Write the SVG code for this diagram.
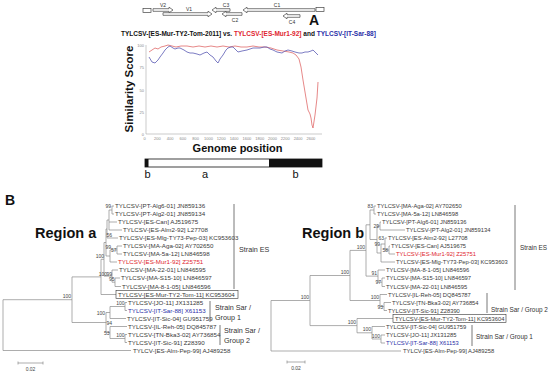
<svg xmlns="http://www.w3.org/2000/svg" width="550" height="375" viewBox="0 0 550 375">
<style>
text{font-family:"Liberation Sans",Arial,sans-serif}
.bold{font-weight:bold}
.gm{fill:#fff;stroke:#444;stroke-width:0.7}
.gl{font-size:5px;fill:#333}
.tk{font-size:4px;fill:#888}
.ax{stroke:#aaa;stroke-width:0.6;fill:none}
.ta{font-size:6.2px;fill:#3a3a3a}
.tb{font-size:5.8px;fill:#3a3a3a}
.bs{font-size:5px;fill:#444;text-anchor:end}
.br{stroke:#8a8a8a;stroke-width:0.7;fill:none}
.bar{stroke:#555;stroke-width:0.8}
.sa{font-size:7.2px;fill:#333}
.sb{font-size:6.4px;fill:#333}
.red{fill:#e0252f}
.blue{fill:#2a2fa8}
</style>
<rect width="550" height="375" fill="#fff"/>

<g id="panelA-genome-map">
<rect class="gm" x="143" y="8.5" width="8" height="4"/>
<rect class="gm" x="316" y="7.5" width="8" height="4"/>
<polygon class="gm" points="153,8.7 169,8.7 169,7.2 173,10 169,12.8 169,11.3 153,11.3"/>
<polygon class="gm" points="163,12.7 208,12.7 208,11.2 212,14 208,16.8 208,15.3 163,15.3"/>
<polygon class="gm" points="230,8.7 216,8.7 216,7.2 212,10 216,12.8 216,11.3 230,11.3"/>
<polygon class="gm" points="242,12.7 226,12.7 226,11.2 222,14 226,16.8 226,15.3 242,15.3"/>
<polygon class="gm" points="315,8.7 247,8.7 247,7.2 243,10 247,12.8 247,11.3 315,11.3"/>
<polygon class="gm" points="300,14.7 287,14.7 287,13.2 283,16 287,18.8 287,17.3 300,17.3"/>
<text class="gl" x="163" y="7" text-anchor="middle">V2</text>
<text class="gl" x="189" y="10.5" text-anchor="middle">V1</text>
<text class="gl" x="226" y="6.5" text-anchor="middle">C3</text>
<text class="gl" x="235" y="22" text-anchor="middle">C2</text>
<text class="gl" x="277" y="6.5" text-anchor="middle">C1</text>
<text class="gl" x="292" y="23.5" text-anchor="middle">C4</text>
</g>

<text class="bold" x="309" y="25" font-size="14" fill="#111">A</text>

<g id="panelA-title">
<text class="bold" x="121" y="36" font-size="6.5" fill="#111">TYLCSV-[ES-Mur-TY2-Tom-2011] vs. <tspan class="red">TYLCSV-[ES-Mur1-92]</tspan> and <tspan class="blue">TYLCSV-[IT-Sar-88]</tspan></text>
</g>

<g id="panelA-plot">
<path class="ax" d="M146,45 V134 H322"/>
<text class="tk" x="144" y="46.5" text-anchor="end">100</text>
<text class="tk" x="144" y="69" text-anchor="end">75</text>
<text class="tk" x="144" y="91.5" text-anchor="end">50</text>
<text class="tk" x="144" y="114" text-anchor="end">25</text>
<text class="tk" x="144" y="136" text-anchor="end">0</text>
<g class="tk" text-anchor="middle">
<text x="144.5" y="139.5">0</text><text x="157.3" y="139.5">200</text><text x="170.1" y="139.5">400</text><text x="182.9" y="139.5">600</text><text x="195.7" y="139.5">800</text><text x="208.5" y="139.5">1000</text><text x="221.3" y="139.5">1200</text><text x="234.1" y="139.5">1400</text><text x="246.9" y="139.5">1600</text><text x="259.7" y="139.5">1800</text><text x="272.5" y="139.5">2000</text><text x="285.3" y="139.5">2200</text><text x="298.1" y="139.5">2400</text><text x="310.9" y="139.5">2600</text>
</g>
<polyline fill="none" stroke="#e06a6a" stroke-width="0.8" points="149,52 152,50 155,48 158,49 161,47 165,46 168,45 172,46 176,47 181,46 187,46 193,47 199,46 205,47 211,46 217,47 223,46 229,47 235,46 241,47 247,47 253,46 259,47 265,47 271,48 277,50 283,51 289,52 293,53 296,55 299,59 301,67 303,80 305,92 307,104 308,110 310,114 311,118 312,125 313,128 315,115 317,98 318,82"/>
<polyline fill="none" stroke="#5a5ab4" stroke-width="0.8" points="149,57 152,62 155,63 158,60 160,57 163,53 165,50 168,47 170,46 173,48 175,49 178,48 180,48 184,50 187,52 190,53 193,53 197,54 200,55 204,53 207,52 210,55 213,57 216,61 218,63 220,59 223,55 226,50 228,48 231,47 233,47 236,50 238,52 242,51 247,50 250,49 253,48 257,48 260,48 264,47 267,47 270,49 273,50 277,52 282,53 285,51 288,50 292,51 295,52 299,53 302,53 305,52 308,52 311,51 313,50 316,53 318,55"/>
<text class="bold" transform="translate(133,89) rotate(-90)" font-size="11.5" text-anchor="middle" fill="#111">Similarity Score</text>
<text class="bold" x="237.5" y="152" font-size="11" text-anchor="middle" fill="#111">Genome position</text>
</g>

<g id="panelA-bar">
<rect x="145" y="159" width="177" height="8" fill="#fff" stroke="#111" stroke-width="0.8"/>
<rect x="145" y="159" width="3.5" height="8" fill="#111"/>
<rect x="269" y="159" width="53" height="8" fill="#111"/>
<text x="147.5" y="178" font-size="11" text-anchor="middle" fill="#111">b</text>
<text x="205" y="178" font-size="11" text-anchor="middle" fill="#111">a</text>
<text x="295.5" y="178" font-size="11" text-anchor="middle" fill="#111">b</text>
</g>

<text class="bold" x="5" y="205" font-size="14" fill="#111">B</text>

<!-- Region a tree -->
<text class="bold" x="35" y="238" font-size="14.5" fill="#111">Region a</text>
<g id="tree-a-connectors" class="br">
<path d="M112,206V214M112,206H114M112,214H114"/>
<path d="M109,210V230M109,210H112M109,222H117M109,230H122"/>
<path d="M107,220V238M107,220H109M107,238H118"/>
<path d="M117,246V254M117,246H122M117,254H122"/>
<path d="M110,250V262M110,250H117M110,262H117"/>
<path d="M106,229V256M106,229H107M106,256H110"/>
<path d="M115,278V286.5M115,278H120M115,286.5H121"/>
<path d="M112,270V282.2M112,270H118M112,282.2H115"/>
<path d="M104,242.5V276.1M104,242.5H106M104,276.1H112"/>
<path d="M101,259.3V294.5M101,259.3H104M101,294.5H116"/>
<path d="M125,302.5V310.5M125,302.5H127M125,310.5H127"/>
<path d="M110,306.5V318.5M110,306.5H125M110,318.5H126"/>
<path d="M125,334.5V342.5M125,334.5H127M125,342.5H127"/>
<path d="M110,326.5V338.5M110,326.5H127M110,338.5H125"/>
<path d="M106,312.5V332.5M106,312.5H110M106,332.5H110"/>
<path d="M72,276.9V322.5M72,276.9H101M72,322.5H106"/>
<path d="M3,299.7V350.5M3,299.7H72M3,350.5H131"/>
</g>
<g id="tree-a-leaves" class="ta">
<text x="115" y="208.2">TYLCSV-[PT-Alg6-01] JN859136</text>
<text x="115" y="216.2">TYLCSV-[PT-Alg2-01] JN859134</text>
<text x="118" y="224.2">TYLCSV-[ES-Can] AJ519675</text>
<text x="123" y="232.2">TYLCSV-[ES-Alm2-92] L27708</text>
<text x="119" y="240.2">TYLCSV-[ES-Mlg-TY73-Pep-03] KC953603</text>
<text x="123" y="248.2">TYLCSV-[MA-Aga-02] AY702650</text>
<text x="123" y="256.2">TYLCSV-[MA-5a-12] LN846598</text>
<text x="118" y="264.2" class="red">TYLCSV-[ES-Mur1-92] Z25751</text>
<text x="119" y="272.2">TYLCSV-[MA-22-01] LN846595</text>
<text x="121" y="280.2">TYLCSV-[MA-S15-10] LN846597</text>
<text x="122" y="288.7">TYLCSV-[MA-8-1-05] LN846596</text>
<g id="a-boxed"><rect x="116" y="290.5" width="122" height="8" fill="none" stroke="#333" stroke-width="0.6"/>
<text x="118" y="296.7">TYLCSV-[ES-Mur-TY2-Tom-11] KC953604</text></g>
<text x="128" y="304.7">TYLCSV-[JO-11] JX131285</text>
<text x="128" y="312.7" class="blue">TYLCSV-[IT-Sar-88] X61153</text>
<text x="127" y="320.7">TYLCSV-[IT-Sic-04] GU951759</text>
<text x="128" y="328.7">TYLCSV-[IL-Reh-05] DQ845787</text>
<text x="128" y="336.7">TYLCSV-[TN-Bka3-02] AY736854</text>
<text x="128" y="344.7">TYLCSV-[IT-Sic-91] Z28390</text>
<text x="133" y="352.7">TYLCV-[ES-Alm-Pep-99] AJ489258</text>
</g>
<g id="tree-a-support" class="bs">
<text x="111" y="207.5">99</text>
<text x="112" y="237">56</text>
<text x="111" y="248.5">99</text>
<text x="116.5" y="251.5">57</text>
<text x="104" y="258">100</text>
<text x="107" y="275.5">100</text>
<text x="112" y="275.5">99</text>
<text x="114.5" y="281">95</text>
<text x="71" y="298">100</text>
<text x="124.5" y="304.5">100</text>
<text x="105" y="314.5">100</text>
<text x="112" y="325">94</text>
<text x="109.5" y="335">53</text>
<text x="124.5" y="336.5">100</text>
</g>
<g id="tree-a-strains">
<line class="bar" x1="234" y1="204" x2="234" y2="289"/>
<text class="sa" x="239" y="252">Strain ES</text>
<line class="bar" x1="210" y1="301" x2="210" y2="322"/>
<text class="sa" x="215" y="309.5">Strain Sar /</text>
<text class="sa" x="215" y="319.5">Group 1</text>
<line class="bar" x1="220" y1="325" x2="220" y2="345"/>
<text class="sa" x="224" y="332.5">Strain Sar /</text>
<text class="sa" x="224" y="342.5">Group 2</text>
</g>
<g id="scale-a">
<path class="br" d="M18,363H43M18,361.5V364.5M43,361.5V364.5"/>
<text x="30.5" y="371" font-size="5" text-anchor="middle" fill="#444">0.02</text>
</g>

<!-- Region b tree -->
<text class="bold" x="302" y="238" font-size="14.5" fill="#111">Region b</text>
<g id="tree-b-connectors" class="br">
<path d="M374,206V214M374,206H376M374,214H376"/>
<path d="M380,222V230M380,222H381M380,230H405"/>
<path d="M389,246V254M389,246H390M389,254H395"/>
<path d="M385,238V250M385,238H387M385,250H389"/>
<path d="M381,244V262M381,244H385M381,262H395"/>
<path d="M377,226V253M377,226H380M377,253H381"/>
<path d="M370,210V239.5M370,210H374M370,239.5H377"/>
<path d="M382,278V286.5M382,278H385M382,286.5H385"/>
<path d="M378,270V282.2M378,270H385M378,282.2H382"/>
<path d="M366,224.8V276.1M366,224.8H370M366,276.1H378"/>
<path d="M384,302.5V310.5M384,302.5H391M384,310.5H387"/>
<path d="M380,294.5V306.5M380,294.5H387M380,306.5H384"/>
<path d="M350,250.4V300.5M350,250.4H366M350,300.5H380"/>
<path d="M381,335V343M381,335H385M381,343H385"/>
<path d="M372,326.5V339M372,326.5H385M372,339H381"/>
<path d="M357,318.5V332.8M357,318.5H393M357,332.8H372"/>
<path d="M310,275.5V325.6M310,275.5H350M310,325.6H357"/>
<path d="M271,300.5V351M271,300.5H310M271,351H401"/>
</g>
<g id="tree-b-leaves" class="tb">
<text x="377" y="208">TYLCSV-[MA-Aga-02] AY702650</text>
<text x="377" y="216">TYLCSV-[MA-5a-12] LN846598</text>
<text x="382" y="224">TYLCSV-[PT-Alg6-01] JN859136</text>
<text x="406" y="232">TYLCSV-[PT-Alg2-01] JN859134</text>
<text x="388" y="240">TYLCSV-[ES-Alm2-92] L27708</text>
<text x="391" y="248">TYLCSV-[ES-Can] AJ519675</text>
<text x="396" y="256" class="red">TYLCSV-[ES-Mur1-92] Z25751</text>
<text x="396" y="264">TYLCSV-[ES-Mlg-TY73-Pep-03] KC953603</text>
<text x="386" y="272">TYLCSV-[MA-8-1-05] LN846596</text>
<text x="386" y="280">TYLCSV-[MA-S15-10] LN846597</text>
<text x="386" y="288.5">TYLCSV-[MA-22-01] LN846595</text>
<text x="388" y="296.5">TYLCSV-[IL-Reh-05] DQ845787</text>
<text x="392" y="304.5">TYLCSV-[TN-Bka3-02] AY736854</text>
<text x="388" y="312.5">TYLCSV-[IT-Sic-91] Z28390</text>
<g id="b-boxed"><rect x="393" y="314.5" width="113" height="8" fill="none" stroke="#333" stroke-width="0.6"/>
<text x="395" y="320.5">TYLCSV-[ES-Mur-TY2-Tom-11] KC953604</text></g>
<text x="386" y="328.5">TYLCSV-[IT-Sic-04] GU951759</text>
<text x="386" y="337">TYLCSV-[JO-11] JX131285</text>
<text x="386" y="345" class="blue">TYLCSV-[IT-Sar-88] X61153</text>
<text x="403" y="353">TYLCV-[ES-Alm-Pep-99] AJ489258</text>
</g>
<g id="tree-b-support" class="bs">
<text x="373" y="208">83</text>
<text x="379" y="228">29</text>
<text x="384" y="240">63</text>
<text x="380" y="246">99</text>
<text x="388" y="251.5">58</text>
<text x="365" y="249">100</text>
<text x="349" y="274">100</text>
<text x="377" y="275">91</text>
<text x="381" y="284">97</text>
<text x="379" y="299">100</text>
<text x="383" y="309">93</text>
<text x="309" y="299">100</text>
<text x="356" y="324">100</text>
<text x="371" y="331">100</text>
<text x="380" y="337.5">100</text>
</g>
<g id="tree-b-strains">
<line class="bar" x1="515" y1="205" x2="515" y2="290"/>
<text class="sb" x="520" y="250">Strain ES</text>
<line class="bar" x1="487" y1="293" x2="487" y2="313"/>
<text class="sb" x="491" y="312">Strain Sar / Group 2</text>
<line class="bar" x1="472" y1="325" x2="472" y2="346"/>
<text class="sb" x="476" y="339">Strain Sar / Group 1</text>
</g>
<g id="scale-b">
<path class="br" d="M287,362H305M287,360.5V363.5M305,360.5V363.5"/>
<text x="296" y="370" font-size="5" text-anchor="middle" fill="#444">0.02</text>
</g>
</svg>
